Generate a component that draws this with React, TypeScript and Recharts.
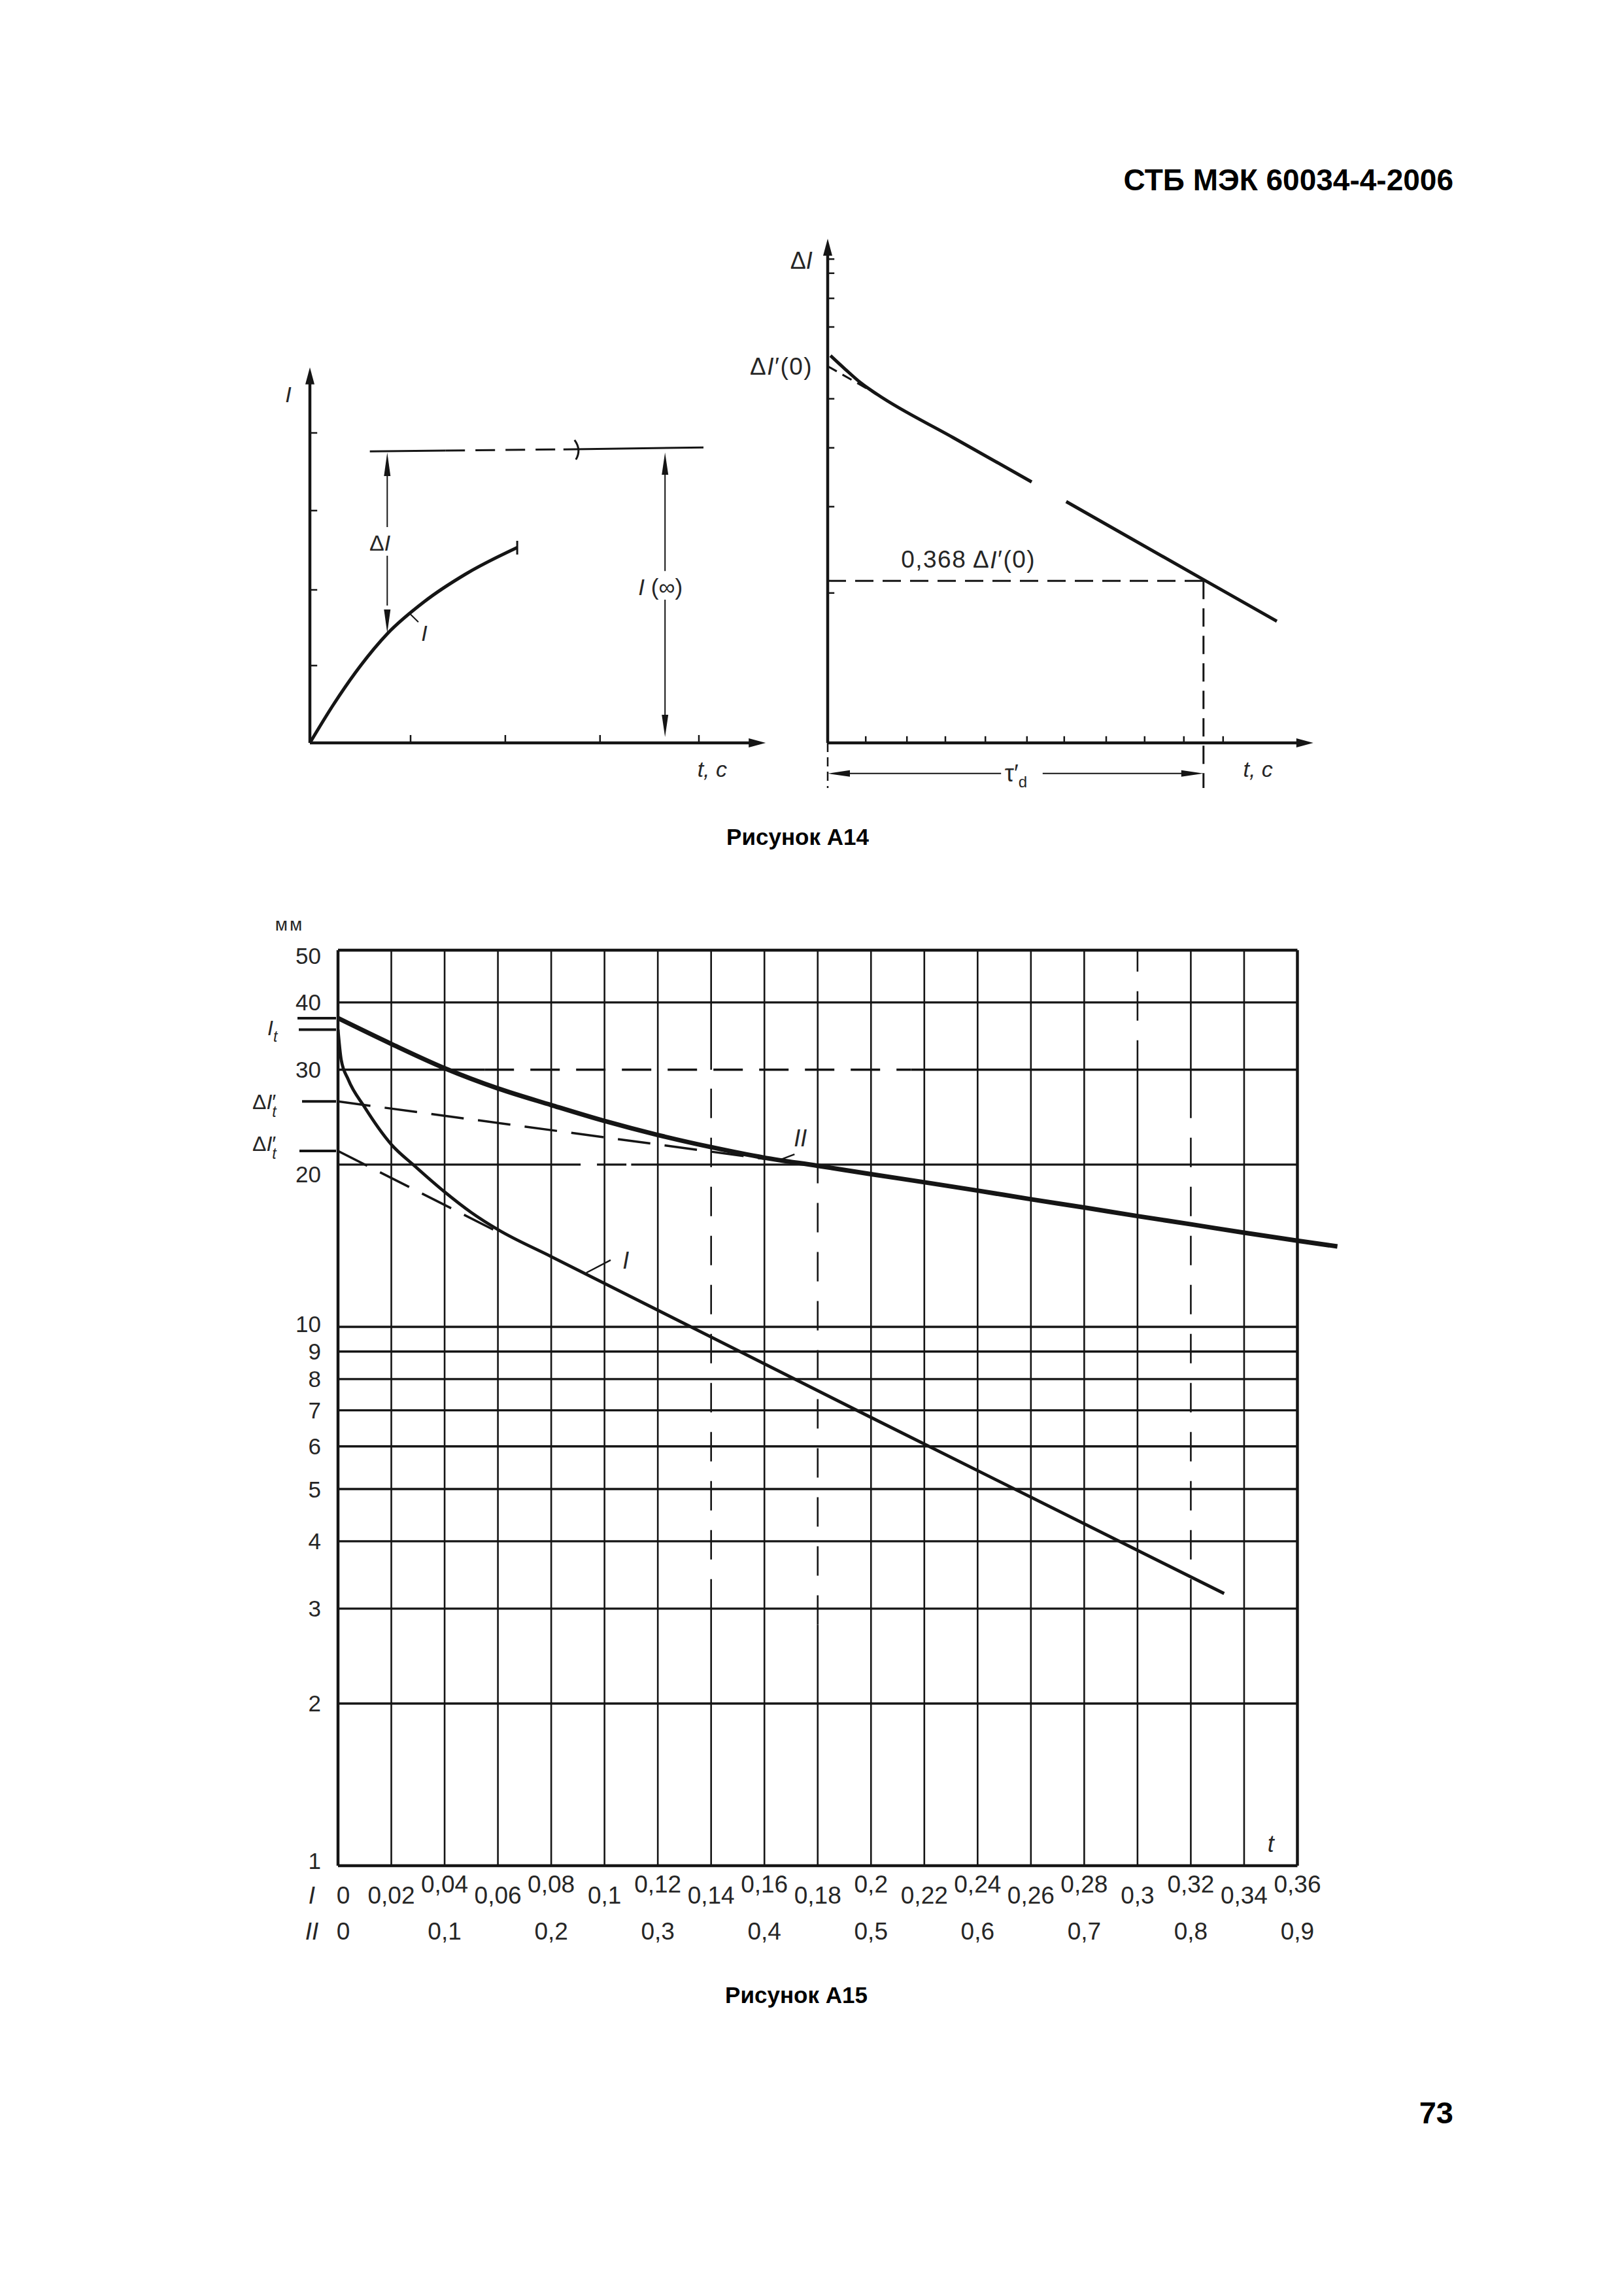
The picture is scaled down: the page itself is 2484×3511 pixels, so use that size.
import React from "react";
import { LineChart, Line, XAxis, YAxis, ReferenceLine, ReferenceDot } from "recharts";

const INK = "#151515";
const TEXT = "#262626";
const FONT = "'Liberation Sans', Arial, Helvetica, sans-serif";

// Рисунок А14, слева: I(t)
const riseT = [0, 0.5, 1.0, 1.69, 2.5, 3.4, 4.53];
const riseI = [0, 0.95, 1.8, 2.78, 3.6, 4.3, 4.98];
const riseTickT = [2.2, 4.27, 6.34, 8.5];
const riseTickI = [1.97, 3.9, 5.92, 7.9];

// Рисунок А14, справа: ΔI(t)
const decayT = [0.07, 0.45, 0.85, 1.28, 3.2, 5.2, 5.64, 6.08, 9.58, 11.45];
const decayD: (number | null)[] = [9.87, 9.52, 9.17, 8.87, 7.78, 6.65, null, 6.15, 4.16, 3.1];
const tangentT = [0, 1.28];
const tangentD = [9.6, 8.87];
const decayTickT = [0.97, 2.02, 3.0, 4.02, 5.08, 6.03, 7.1, 8.08, 9.08, 10.08];
const decayTickD = [3.82, 6.02, 7.52, 8.77, 10.6, 11.33, 11.97, 12.33];
const tauT = 9.58;
const level368 = 4.13;

// Рисунок А15
const tTicks = [0, 0.02, 0.04, 0.06, 0.08, 0.1, 0.12, 0.14, 0.16, 0.18, 0.2, 0.22, 0.24, 0.26, 0.28, 0.3, 0.32, 0.34, 0.36];
const mmTicks = [1, 2, 3, 4, 5, 6, 7, 8, 9, 10, 20, 30, 40, 50];
const curveIT = [0, 0.0012, 0.0038, 0.0099, 0.02, 0.0287, 0.04, 0.05, 0.06, 0.08, 0.2, 0.3325];
const curveIV = [35.6, 31.3, 28.8, 25.6, 21.8, 19.9, 17.8, 16.3, 15.15, 13.5, 6.79, 3.2];
const curveIIT = [0, 0.02, 0.04, 0.06, 0.08, 0.1, 0.12, 0.14, 0.16, 0.18, 0.2, 0.22, 0.24, 0.26, 0.28, 0.3, 0.32, 0.34, 0.36, 0.375];
const curveIIV = [37.4, 33.5, 30.2, 27.7, 25.8, 24.1, 22.7, 21.55, 20.6, 19.9, 19.2, 18.55, 17.9, 17.25, 16.65, 16.05, 15.5, 14.95, 14.45, 14.1];
const asymIT = [0, 0.06];
const asymIV = [21.2, 15.0];
const asymIIT = [0, 0.16];
const asymIIV = [26.2, 20.5];
// broken (scanned) pieces of the grid
const brokenCols = [
  { t: 0.14, lo: 3, hi: 30 },
  { t: 0.18, lo: 2.8, hi: 20 },
  { t: 0.3, lo: 30, hi: 50 },
  { t: 0.32, lo: 3, hi: 25 },
];
const brokenRows = [
  { v: 30, lo: 0.055, hi: 0.215 },
  { v: 20, lo: 0.08, hi: 0.11 },
];

type Pt = { t: number; v: number | null };
const zip = (ts: number[], vs: (number | null)[]): Pt[] => ts.map((t, i) => ({ t, v: vs[i] }));
const fmt = (v: number) => String(+v.toFixed(2)).replace(".", ",");

function seg(key: string, x1: number, y1: number, x2: number, y2: number, w = 3, dash?: string) {
  return (
    <ReferenceLine
      key={key}
      segment={[{ x: x1, y: y1 }, { x: x2, y: y2 }]}
      stroke={INK}
      strokeWidth={w}
      strokeDasharray={dash}
      ifOverflow="visible"
    />
  );
}

function dot(key: string, x: number, y: number, shape: any) {
  return <ReferenceDot key={key} x={x} y={y} r={0} ifOverflow="visible" shape={shape} />;
}

function arrow(dir: "up" | "down" | "left" | "right", len = 30, half = 6) {
  return (p: any) => {
    const { cx, cy } = p;
    const pts =
      dir === "up"
        ? [[cx, cy], [cx - half, cy + len], [cx + half, cy + len]]
        : dir === "down"
        ? [[cx, cy], [cx - half, cy - len], [cx + half, cy - len]]
        : dir === "left"
        ? [[cx, cy], [cx + len, cy - half], [cx + len, cy + half]]
        : [[cx, cy], [cx - len, cy - half], [cx - len, cy + half]];
    return <path d={`M${pts.map((q) => q.join(",")).join("L")}Z`} fill={INK} />;
  };
}

function label(content: React.ReactNode, anchor: "start" | "middle" | "end" = "middle", size = 34, spacing = 0) {
  return (p: any) => (
    <text
      x={p.cx}
      y={p.cy}
      textAnchor={anchor}
      dominantBaseline="central"
      fontFamily={FONT}
      fontSize={size}
      letterSpacing={spacing}
      fill={TEXT}
    >
      {content}
    </text>
  );
}

const It = <tspan fontStyle="italic">I</tspan>;

function RiseChart() {
  return (
    <div style={{ position: "absolute", left: 384, top: 516 }}>
      <LineChart width={814} height={690} margin={{ top: 20, right: 10, bottom: 10, left: 20 }}>
        <XAxis type="number" dataKey="t" domain={[-1, 10.2]} allowDataOverflow hide />
        <YAxis type="number" domain={[-1, 10]} allowDataOverflow hide />
        {seg("ax", 0, 0, 9.7, 0, 4.5)}
        {seg("ay", 0, 0, 0, 9.3, 4.5)}
        {dot("axh", 9.96, 0, arrow("right", 26, 7))}
        {dot("ayh", 0, 9.57, arrow("up", 26, 7))}
        {riseTickT.map((t, i) => seg(`tx${i}`, t, 0, t, 0.2, 2.5))}
        {riseTickI.map((v, i) => seg(`ty${i}`, 0, v, 0.16, v, 2.5))}
        <Line data={zip(riseT, riseI)} dataKey="v" type="monotone" stroke={INK} strokeWidth={5} dot={false} isAnimationActive={false} />
        {seg("end", 4.53, 5.15, 4.53, 4.8, 3)}
        {seg("inf1", 1.31, 7.43, 2.96, 7.45, 3)}
        {seg("inf2", 2.96, 7.45, 5.51, 7.48, 3, "30 16")}
        {seg("inf3", 5.54, 7.48, 8.6, 7.53, 3)}
        {dot("brk", 5.84, 7.47, (p: any) => (
          <path d={`M${p.cx - 4},${p.cy - 15} Q${p.cx + 7},${p.cy} ${p.cx - 2},${p.cy + 15}`} stroke={INK} strokeWidth={3} fill="none" />
        ))}
        {dot("dIup", 1.69, 7.4, arrow("up", 36, 5))}
        {seg("dI1", 1.69, 6.8, 1.69, 5.5, 2)}
        {seg("dI2", 1.69, 4.77, 1.69, 3.5, 2)}
        {dot("dIdn", 1.69, 2.8, arrow("down", 36, 5))}
        {dot("dIlab", 1.53, 5.1, label(<>Δ{It}</>))}
        {dot("infUp", 7.76, 7.4, arrow("up", 34, 5))}
        {seg("inf4", 7.76, 6.9, 7.76, 4.38, 2)}
        {seg("inf5", 7.76, 3.65, 7.76, 0.6, 2)}
        {dot("infDn", 7.76, 0.15, arrow("down", 34, 5))}
        {dot("infLab", 7.66, 3.98, label(<>{It} (∞)</>, "middle", 35))}
        {seg("lead", 2.16, 3.32, 2.37, 3.08, 2)}
        {dot("curveLab", 2.5, 2.8, label(It))}
        {dot("yLab", -0.47, 8.88, label(It))}
        {dot("xLab", 8.79, -0.67, label(<tspan fontStyle="italic">t, c</tspan>))}
      </LineChart>
    </div>
  );
}

function DecayChart() {
  return (
    <div style={{ position: "absolute", left: 1116, top: 336 }}>
      <LineChart width={920} height={900} margin={{ top: 20, right: 20, bottom: 10, left: 60 }}>
        <XAxis type="number" dataKey="t" domain={[-1.5, 12.5]} allowDataOverflow hide />
        <YAxis type="number" domain={[-1.5, 13]} allowDataOverflow hide />
        {seg("ax", 0, 0, 12.1, 0, 4.5)}
        {seg("ay", 0, 0, 0, 12.6, 4.5)}
        {dot("axh", 12.38, 0, arrow("right", 26, 7))}
        {dot("ayh", 0, 12.85, arrow("up", 26, 7))}
        {decayTickT.map((t, i) => seg(`tx${i}`, t, 0, t, 0.17, 2.5))}
        {decayTickD.map((v, i) => seg(`ty${i}`, 0, v, 0.17, v, 2.5))}
        <Line data={zip(tangentT, tangentD)} dataKey="v" type="linear" stroke={INK} strokeWidth={3} strokeDasharray="16 10" dot={false} isAnimationActive={false} />
        <Line data={zip(decayT, decayD)} dataKey="v" type="monotone" stroke={INK} strokeWidth={5} dot={false} isAnimationActive={false} />
        {seg("h368", 0, level368, tauT, level368, 3, "28 14")}
        {seg("vtau", tauT, level368, tauT, -1.15, 3, "28 14")}
        {seg("v0", 0, 0, 0, -1.15, 2.5, "14 8")}
        {dot("tauL", 0, -0.78, arrow("left", 34, 5))}
        {seg("tau1", 0.5, -0.78, 4.42, -0.78, 2)}
        {seg("tau2", 5.48, -0.78, 9.05, -0.78, 2)}
        {dot("tauR", tauT, -0.78, arrow("right", 34, 5))}
        {dot("tauLab", 4.8, -0.78, label(<>τ′<tspan fontSize={24} dy={12}>d</tspan></>, "middle", 36))}
        {dot("yLab", -0.67, 12.3, label(<>Δ{It}</>, "middle", 36))}
        {dot("d0Lab", -0.38, 9.6, label(<>Δ{It}′(0)</>, "end", 37, 1.5))}
        {dot("l368", 1.87, 4.67, label(<>0,368 Δ{It}′(0)</>, "start", 37, 1.5))}
        {dot("xLab", 10.97, -0.67, label(<tspan fontStyle="italic">t, c</tspan>))}
      </LineChart>
    </div>
  );
}

const renderTTick = (p: any) => {
  const { x, y, payload } = p;
  const v = payload.value as number;
  const i = Math.round(v / 0.02);
  const high = i % 2 === 0 && i > 0;
  const sx = i === 0 ? 8 : 0;
  const common = { fontFamily: FONT, fontSize: 37, fill: TEXT, textAnchor: "middle" as const, dominantBaseline: "central" as const };
  return (
    <g>
      <text x={x + sx} y={y + (high ? 28 : 45)} {...common}>{fmt(v)}</text>
      {i % 2 === 0 && <text x={x + sx} y={y + 100} {...common}>{fmt(i * 0.05)}</text>}
      {i === 0 && (
        <>
          <text x={x - 40} y={y + 45} {...common} fontStyle="italic">I</text>
          <text x={x - 40} y={y + 100} {...common} fontStyle="italic">II</text>
        </>
      )}
    </g>
  );
};

const renderMmTick = (p: any) => {
  const { x, y, payload } = p;
  const v = payload.value as number;
  const txt = { fontFamily: FONT, fontSize: 32, fill: TEXT };
  if (v === curveIIV[0]) return <line x1={x - 62} x2={x - 3} y1={y} y2={y} stroke={INK} strokeWidth={4} />;
  if (v === curveIV[0])
    return (
      <g>
        <line x1={x - 60} x2={x - 3} y1={y} y2={y} stroke={INK} strokeWidth={4} />
        <text x={x - 108} y={y + 8} {...txt}>
          <tspan fontStyle="italic">I</tspan>
          <tspan fontSize={23} dy={10} fontStyle="italic">t</tspan>
        </text>
      </g>
    );
  if (v === asymIIV[0] || v === asymIV[0]) {
    const upper = v === asymIIV[0];
    return (
      <g>
        <line x1={x - (upper ? 55 : 59)} x2={x - 3} y1={y} y2={y} stroke={INK} strokeWidth={4} />
        <text x={x - 131} y={y + (upper ? 12 : 0)} {...txt}>
          Δ<tspan fontStyle="italic">I</tspan>′
          <tspan fontSize={23} dy={12} dx={-6} fontStyle="italic">t</tspan>
        </text>
      </g>
    );
  }
  const dy = v === 20 ? 15 : v === 50 ? 8 : v === 1 ? -8 : v === 10 ? -4 : 0;
  return (
    <g>
      {v === 50 && (
        <text x={x - 74} y={y - 40} textAnchor="middle" dominantBaseline="central" fontFamily={FONT} fontSize={28} letterSpacing={3} fill={TEXT}>мм</text>
      )}
      <text x={x - 26} y={y + dy} textAnchor="end" dominantBaseline="central" fontFamily={FONT} fontSize={35} fill={TEXT}>{v}</text>
    </g>
  );
};

function FigureA15() {
  const grid: React.ReactNode[] = [];
  tTicks.forEach((t, i) => {
    const edge = i === 0 || i === tTicks.length - 1;
    const w = edge ? 4.5 : 2.6;
    const br = brokenCols.find((b) => b.t === t);
    if (!br) {
      grid.push(seg(`c${i}`, t, 1, t, 50, w));
    } else {
      if (br.lo > 1) grid.push(seg(`c${i}a`, t, 1, t, br.lo, w));
      grid.push(seg(`c${i}b`, t, br.lo, t, br.hi, w, "45 30"));
      if (br.hi < 50) grid.push(seg(`c${i}c`, t, br.hi, t, 50, w));
    }
  });
  mmTicks.forEach((v, i) => {
    const edge = v === 1 || v === 50;
    const w = edge ? 4.5 : 3.4;
    const br = brokenRows.find((b) => b.v === v);
    if (!br) {
      grid.push(seg(`r${i}`, 0, v, 0.36, v, w));
    } else {
      grid.push(seg(`r${i}a`, 0, v, br.lo, v, w));
      grid.push(seg(`r${i}b`, br.lo, v, br.hi, v, w, "45 25"));
      grid.push(seg(`r${i}c`, br.hi, v, 0.36, v, w));
    }
  });
  return (
    <div style={{ position: "absolute", left: 382, top: 1393 }}>
      <LineChart width={1694} height={1595} margin={{ top: 60, right: 10, bottom: 5, left: 5 }}>
        <XAxis
          type="number"
          dataKey="t"
          domain={[0, 0.38]}
          allowDataOverflow
          ticks={tTicks}
          interval={0}
          tick={renderTTick}
          tickLine={false}
          axisLine={false}
          tickSize={0}
          tickMargin={0}
          height={130}
        />
        <YAxis
          type="number"
          scale="log"
          domain={[1, 50]}
          allowDataOverflow
          ticks={[...mmTicks, curveIIV[0], curveIV[0], asymIIV[0], asymIV[0]]}
          interval={0}
          tick={renderMmTick}
          tickLine={false}
          axisLine={false}
          tickSize={0}
          tickMargin={0}
          width={130}
        />
        {grid}
        <Line data={zip(asymIIT, asymIIV)} dataKey="v" type="linear" stroke={INK} strokeWidth={3.5} strokeDasharray="50 22" dot={false} isAnimationActive={false} />
        <Line data={zip(asymIT, asymIV)} dataKey="v" type="linear" stroke={INK} strokeWidth={3.5} strokeDasharray="50 22" dot={false} isAnimationActive={false} />
        <Line data={zip(curveIIT, curveIIV)} dataKey="v" type="monotone" stroke={INK} strokeWidth={7} dot={false} isAnimationActive={false} />
        <Line data={zip(curveIT, curveIV)} dataKey="v" type="monotone" stroke={INK} strokeWidth={4.8} dot={false} isAnimationActive={false} />
        {seg("leadI", 0.0932, 12.6, 0.1023, 13.3, 2.5)}
        {dot("labI", 0.108, 13.3, label(It, "middle", 36))}
        {seg("leadII", 0.1663, 20.45, 0.1713, 20.9, 2.5)}
        {dot("labII", 0.1735, 22.4, label(<tspan fontStyle="italic">II</tspan>, "middle", 36))}
        {dot("labT", 0.35, 1.1, label(<tspan fontStyle="italic">t</tspan>, "middle", 36))}
      </LineChart>
    </div>
  );
}

export default function App() {
  const bold = { position: "absolute" as const, fontWeight: 700, color: "#000", fontFamily: FONT };
  return (
    <div style={{ position: "relative", width: 2484, height: 3511, background: "#fff", overflow: "hidden", fontFamily: FONT }}>
      <style>{"body{margin:0;background:#fff}"}</style>
      <div style={{ ...bold, left: 1500, width: 723, top: 252, textAlign: "right", fontSize: 46, lineHeight: "46px" }}>
        СТБ МЭК 60034-4-2006
      </div>
      <RiseChart />
      <DecayChart />
      <div style={{ ...bold, left: 1020, width: 400, top: 1262, textAlign: "center", fontSize: 35, lineHeight: "35px" }}>
        Рисунок А14
      </div>
      <FigureA15 />
      <div style={{ ...bold, left: 1018, width: 400, top: 3033, textAlign: "center", fontSize: 35, lineHeight: "35px" }}>
        Рисунок А15
      </div>
      <div style={{ ...bold, left: 2023, width: 200, top: 3207, textAlign: "right", fontSize: 47, lineHeight: "47px" }}>
        73
      </div>
    </div>
  );
}
